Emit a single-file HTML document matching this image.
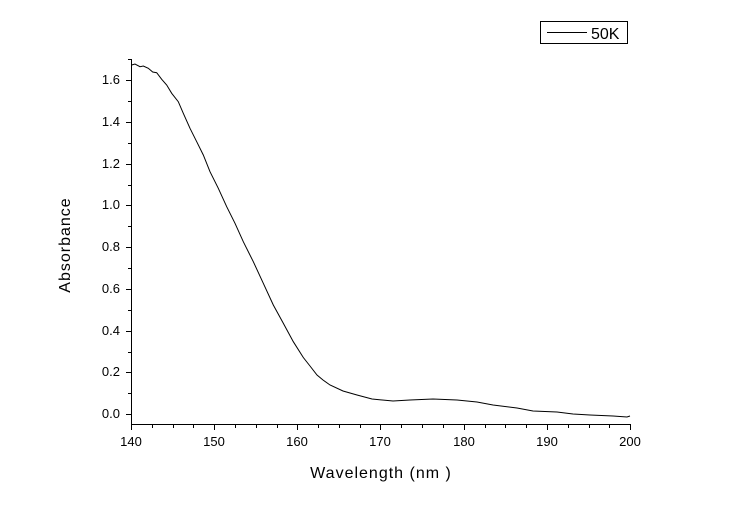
<!DOCTYPE html>
<html><head><meta charset="utf-8"><style>body{margin:0;background:#fff}svg{display:block}text{font-family:"Liberation Sans",Arial,sans-serif;fill:#000}</style></head>
<body>
<svg width="732" height="510" viewBox="0 0 732 510" xmlns="http://www.w3.org/2000/svg">
<g stroke="#000" stroke-width="1" fill="none" shape-rendering="crispEdges">
<line x1="131.5" y1="59" x2="131.5" y2="425"/>
<line x1="131" y1="424.5" x2="631" y2="424.5"/>
<path d="M126 80.5H131M126 122.5H131M126 164.5H131M126 205.5H131M126 247.5H131M126 289.5H131M126 331.5H131M126 372.5H131M126 414.5H131
M128 59.5H131M128 101.5H131M128 143.5H131M128 185.5H131M128 226.5H131M128 268.5H131M128 310.5H131M128 352.5H131M128 393.5H131"/>
<path d="M131.5 425V430M214.5 425V430M297.5 425V430M380.5 425V430M464.5 425V430M547.5 425V430M630.5 425V430
M152.5 425V428M173.5 425V428M193.5 425V428M235.5 425V428M256.5 425V428M277.5 425V428M318.5 425V428M339.5 425V428M360.5 425V428M401.5 425V428M422.5 425V428M443.5 425V428M485.5 425V428M505.5 425V428M526.5 425V428M568.5 425V428M589.5 425V428M609.5 425V428"/>
</g>
<polyline fill="none" stroke="#000" stroke-width="1" points="131.7,65 135,64 140,66.7 143.3,66 148.3,68.3 152.7,72 156.7,72.7 161.7,79.3 166.7,85 171.7,93.3 178.3,101.7 183.3,113.3 190,128.3 196.7,141.7 203.3,155 210,171.7 218.3,188.3 226.7,206.7 235,223.3 243.3,241.7 253.3,261.7 263.3,283.3 273.3,305 283.3,323.3 293.3,341.7 303.3,357.5 310,366 317,375 323,380 330,385 343,391 357,395 372,399 393,401 410,400 433,399 457,400 477,402 493,405 517,408 533,411 557,412 573,414 590,415 613,416 627,417 630,416"/>
<g font-size="13" text-anchor="end">
<text x="120" y="84">1.6</text><text x="120" y="126">1.4</text><text x="120" y="168">1.2</text><text x="120" y="209">1.0</text><text x="120" y="251">0.8</text><text x="120" y="293">0.6</text><text x="120" y="335">0.4</text><text x="120" y="376">0.2</text><text x="120" y="418">0.0</text>
</g>
<g font-size="13" text-anchor="middle">
<text x="131" y="446">140</text><text x="214" y="446">150</text><text x="297" y="446">160</text><text x="380" y="446">170</text><text x="464" y="446">180</text><text x="547" y="446">190</text><text x="630" y="446">200</text>
</g>
<text x="381" y="478" font-size="16" letter-spacing="1" text-anchor="middle">Wavelength (nm )</text>
<text x="0" y="0" font-size="16" letter-spacing="1" text-anchor="middle" transform="translate(70,245) rotate(-90)">Absorbance</text>
<rect x="540.5" y="21.5" width="87" height="22" fill="#fff" stroke="#000" shape-rendering="crispEdges"/>
<line x1="547" y1="32.5" x2="587" y2="32.5" stroke="#000" shape-rendering="crispEdges"/>
<text x="591" y="39" font-size="16">50K</text>
</svg>
</body></html>
